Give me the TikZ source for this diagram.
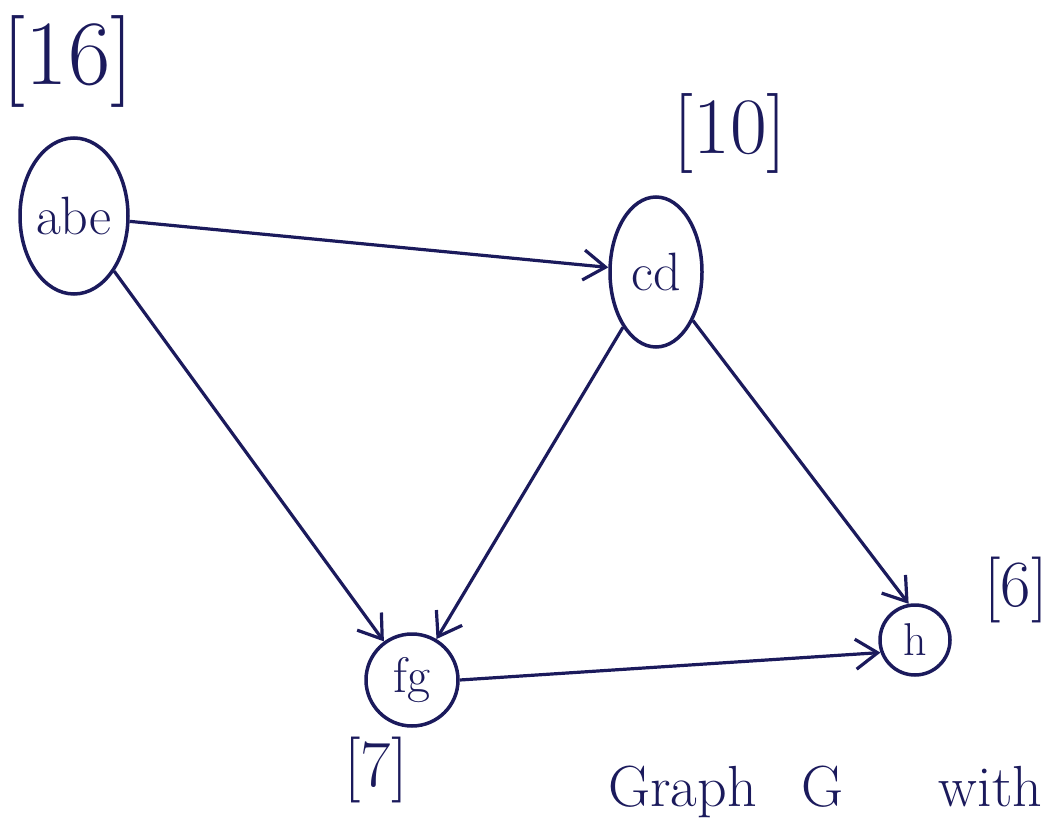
\documentclass[tikz,border=0pt]{standalone}
\usetikzlibrary{shapes.geometric,arrows.meta}
\definecolor{ink}{HTML}{1B1A5C}
\tikzset{
  vtx/.style={draw=ink, line width=3.5pt, inner sep=0pt, text=ink},
  oval/.style={vtx, ellipse},
  ring/.style={vtx, circle},
  wt/.style={text=ink, inner sep=0pt},
  edge/.style={draw=ink, line width=3.2pt, -{Straight Barb[length=22pt,width=30pt,line width=3.2pt]}}
}
\begin{document}
\begin{tikzpicture}[x=1pt,y=-1pt]
\useasboundingbox (0,0) rectangle (1062,818);
\node[oval, minimum width=108pt, minimum height=156pt, font=\fontsize{54}{54}\selectfont] (abe) at (74,216) {abe};
\node[oval, minimum width=92pt, minimum height=150pt, font=\fontsize{54}{54}\selectfont] (cd) at (656,272) {cd};
\node[ring, minimum size=92pt, font=\fontsize{50}{50}\selectfont] (fg) at (412,680) {fg};
\node[ring, minimum size=70pt, font=\fontsize{46}{46}\selectfont] (h) at (915,640) {h};
\node[wt, font=\fontsize{92}{92}\selectfont] (w16) at (68,62) {[16]};
\node[wt, font=\fontsize{80}{80}\selectfont] (w10) at (730,134) {[10]};
\node[wt, font=\fontsize{66}{66}\selectfont] (w7) at (376,770) {[7]};
\node[wt, font=\fontsize{66}{66}\selectfont] (w6) at (1016,590) {[6]};
\node[wt, anchor=base west, font=\fontsize{58}{58}\selectfont] (cap) at (608,806) {Graph\hspace{45pt}G\hspace{95pt}with};
\draw[edge] (abe) -- (cd);
\draw[edge] (abe) -- (fg);
\draw[edge] (cd) -- (fg);
\draw[edge] (cd) -- (h.100);
\draw[edge] (fg.east) -- (h.200);
\end{tikzpicture}
\end{document}
